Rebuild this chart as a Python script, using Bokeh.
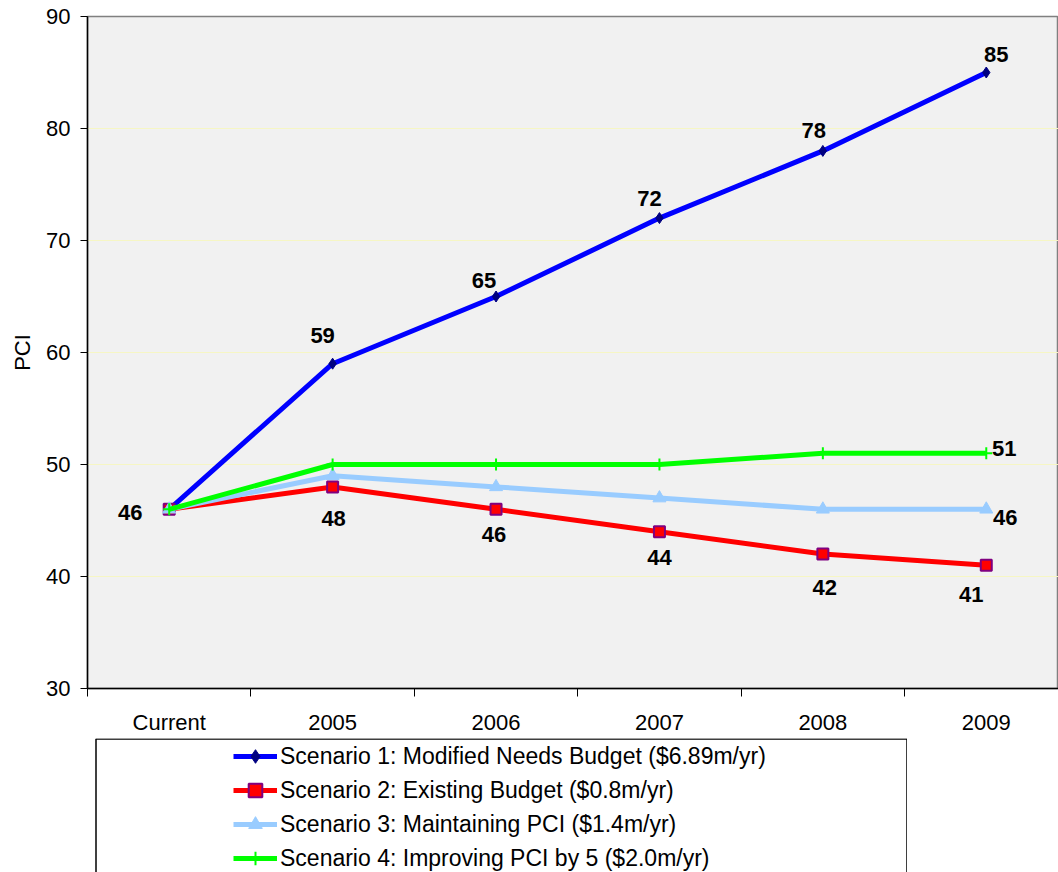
from bokeh.plotting import figure
from bokeh.models import FixedTicker, Legend, LegendItem, ColumnDataSource
from bokeh.layouts import column
from bokeh.core.properties import value
from bokeh.embed import file_html
from bokeh.resources import INLINE

# ---------------- data ----------------
categories = ["Current", "2005", "2006", "2007", "2008", "2009"]
scenario1 = [46, 59, 65, 72, 78, 85]
scenario2 = [46, 48, 46, 44, 42, 41]
scenario3 = [46, 49, 48, 47, 46, 46]
scenario4 = [46, 50, 50, 50, 51, 51]
series_names = [
    "Scenario 1: Modified Needs Budget ($6.89m/yr)",
    "Scenario 2: Existing Budget ($0.8m/yr)",
    "Scenario 3: Maintaining PCI ($1.4m/yr)",
    "Scenario 4: Improving PCI by 5 ($2.0m/yr)",
]
y_ticks = [30, 40, 50, 60, 70, 80, 90]
y_title = "PCI"

# ---------------- styling ----------------
FONT = "Liberation Sans"
xpos = [i + 0.5 for i in range(len(categories))]

p = figure(width=1058, height=737, x_range=(0, 5.942), y_range=(30, 90),
           output_backend="svg", toolbar_location=None,
           min_border_left=87, min_border_right=0, min_border_top=16, min_border_bottom=48,
           background_fill_color="#f1f1f1", border_fill_color="white",
           outline_line_color="#808080", outline_line_width=1.5)

# x axis: labels at category centres, tick marks between categories
p.xaxis.ticker = FixedTicker(ticks=xpos, minor_ticks=list(range(len(categories) + 1)))
p.xaxis.major_label_overrides = {x: c for x, c in zip(xpos, categories)}
p.xaxis.major_tick_out = 0
p.xaxis.major_tick_in = 0
p.xaxis.minor_tick_out = 8
p.xaxis.minor_tick_in = 0
p.xaxis.minor_tick_line_color = "black"
p.xaxis.axis_line_color = "black"
p.xaxis.axis_line_width = 1.5
p.xaxis.major_label_standoff = 13
p.xaxis.major_label_text_font = FONT
p.xaxis.major_label_text_font_size = "22px"
p.xaxis.major_label_text_color = "black"

p.yaxis.ticker = FixedTicker(ticks=y_ticks, minor_ticks=[])
p.yaxis.major_tick_out = 7
p.yaxis.major_tick_in = 0
p.yaxis.major_tick_line_color = "black"
p.yaxis.axis_line_color = "black"
p.yaxis.axis_line_width = 1.5
p.yaxis.major_label_standoff = 10
p.yaxis.major_label_text_font = FONT
p.yaxis.major_label_text_font_size = "22px"
p.yaxis.major_label_text_color = "black"
p.yaxis.axis_label = y_title
p.yaxis.axis_label_text_font = FONT
p.yaxis.axis_label_text_font_size = "22px"
p.yaxis.axis_label_text_font_style = "normal"
p.yaxis.axis_label_text_color = "black"
p.yaxis.axis_label_standoff = 8

p.xgrid.visible = False
p.ygrid.ticker = FixedTicker(ticks=y_ticks, minor_ticks=[])
p.ygrid.grid_line_color = "#f6f6c4"
p.ygrid.grid_line_width = 1

styles = [
    dict(color="#0000ff", marker="diamond", size=11, fill="#000080", mline="#000080", mw=1),
    dict(color="#ff0000", marker="square", size=11, fill="#ff0000", mline="#800080", mw=2),
    dict(color="#99ccff", marker="triangle", size=13, fill="#99ccff", mline="#99ccff", mw=1),
    dict(color="#00ff00", marker="cross", size=12, fill="#00ff00", mline="#00ff00", mw=2),
]
all_series = [scenario1, scenario2, scenario3, scenario4]

for vals, st in zip(all_series, styles):
    p.line(xpos, vals, line_color=st["color"], line_width=5, line_join="round")
    p.scatter(xpos, vals, marker=st["marker"], size=st["size"], fill_color=st["fill"],
              line_color=st["mline"], line_width=st["mw"])

# data labels: (series index, point index, dx, dy) screen offsets
label_spec = [
    (0, 1, -10, -28), (0, 2, -12, -16), (0, 3, -10, -20), (0, 4, -9, -20), (0, 5, 10, -18),
    (1, 0, -39, 3), (1, 1, 1, 32), (1, 2, -2, 25), (1, 3, 0, 26), (1, 4, 2, 33), (1, 5, -15, 29),
    (2, 5, 19, 8),
    (3, 5, 18, -5),
]
lab = dict(x=[], y=[], t=[], dx=[], dy=[])
for si, pi, dx, dy in label_spec:
    lab["x"].append(xpos[pi])
    lab["y"].append(all_series[si][pi])
    lab["t"].append(str(all_series[si][pi]))
    lab["dx"].append(dx)
    lab["dy"].append(dy)
p.text(x="x", y="y", text="t", x_offset="dx", y_offset="dy", source=ColumnDataSource(lab),
       text_font=value(FONT), text_font_style="bold", text_font_size="22px",
       text_align="center", text_baseline="middle", text_color="black")

# ---------------- legend box (second panel, frame pixels == data units) ----------------
p2 = figure(width=907, height=135, x_range=(0, 820), y_range=(0, 134),
            x_axis_type=None, y_axis_type=None,
            output_backend="svg", toolbar_location=None,
            min_border_left=87, min_border_right=0, min_border_top=1, min_border_bottom=0,
            background_fill_color="white", border_fill_color="white",
            outline_line_color=None)
p2.xgrid.visible = False
p2.ygrid.visible = False
p2.quad(left=[8.5], right=[819.5], bottom=[-10], top=[133.5],
        fill_color="white", line_color="black", line_width=1.5)

items = []
for name, st in zip(series_names, styles):
    # proxy glyphs placed outside the visible range; only their legend swatches show
    l = p2.line([-50, -40], [-50, -40], line_color=st["color"], line_width=5)
    m = p2.scatter([-50], [-50], marker=st["marker"], size=st["size"], fill_color=st["fill"],
                   line_color=st["mline"], line_width=st["mw"])
    items.append(LegendItem(label=name, renderers=[l, m]))

legend = Legend(items=items, location=(146, -3), border_line_color=None,
                background_fill_alpha=0, padding=0, margin=0, spacing=0,
                glyph_width=44, glyph_height=34, label_height=34, label_standoff=3,
                label_text_font=FONT, label_text_font_size="23px", label_text_color="black")
p2.add_layout(legend)

layout = column(p, p2, spacing=0)
open("out.html", "w").write(file_html(layout, INLINE))
